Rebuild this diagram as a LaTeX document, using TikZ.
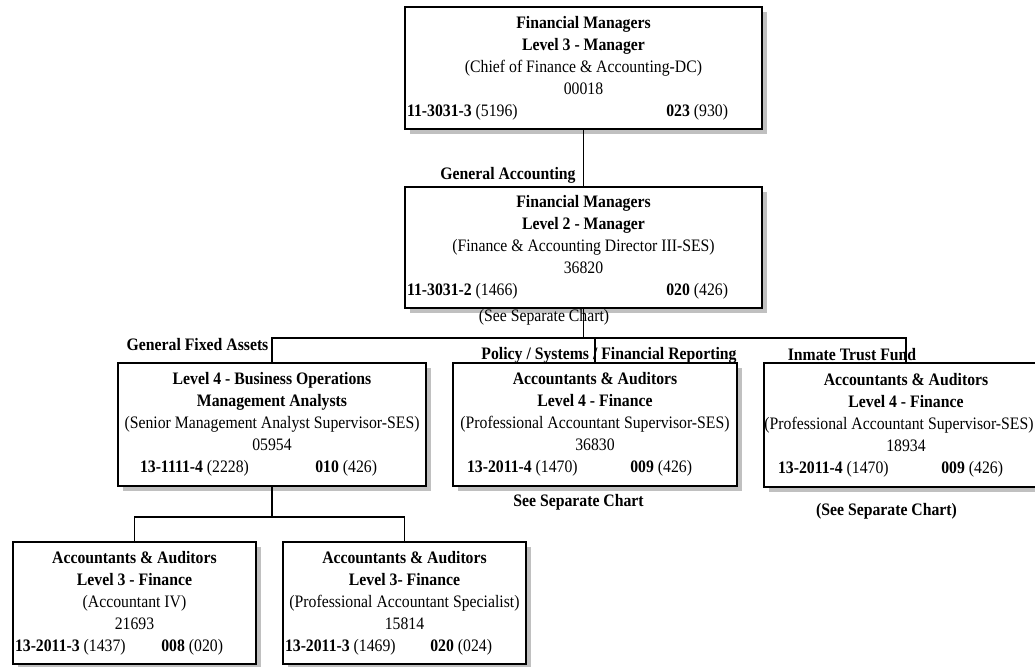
\documentclass[tikz,border=0pt]{standalone}
\usepackage{fontspec}
\setmainfont{Liberation Serif}[FakeStretch=0.9]
\usetikzlibrary{shadows}
\definecolor{shadowgray}{HTML}{C0C0C0}

% last line of a unit box: series code on the left, grade on the right
\newcommand\codeline[4]{\makebox[\linewidth][l]{\hspace*{#1}#2\hfill#3\hspace*{#4}}}

\begin{document}
\begin{tikzpicture}[x=1pt,y=-1pt,
  font=\fontsize{17.5}{22}\selectfont,
  orgbox/.style={draw, line width=1.4pt, fill=white, inner sep=0pt, align=flush center,
    drop shadow={shadow xshift=5pt, shadow yshift=-5pt, fill=shadowgray, opacity=1}},
  wire/.style={line width=1.4pt},
  tag/.style={inner sep=0pt, font=\fontsize{17.5}{22}\selectfont\bfseries},
  note/.style={inner sep=0pt}]
\useasboundingbox (0,0) rectangle (1035,666);
\clip (0,0) rectangle (1035,666);

% management chain
\node[orgbox, minimum width=357pt, minimum height=122pt, text width=357pt] (top) at (583.5,68)
  {\textbf{Financial Managers}\\ \textbf{Level 3 - Manager}\\ (Chief of Finance \& Accounting-DC)\\ 00018\\
   \codeline{2pt}{\textbf{11-3031-3} (5196)}{\textbf{023} (930)}{34pt}};
\node[orgbox, minimum width=357pt, minimum height=121pt, text width=357pt] (gen) at (583.5,247.5)
  {\textbf{Financial Managers}\\ \textbf{Level 2 - Manager}\\ (Finance \& Accounting Director III-SES)\\ 36820\\
   \codeline{2pt}{\textbf{11-3031-2} (1466)}{\textbf{020} (426)}{34pt}};

% level 4 units
\node[orgbox, minimum width=308pt, minimum height=123pt, text width=308pt] (fixed) at (272,424.5)
  {\textbf{Level 4 - Business Operations}\\ \textbf{Management Analysts}\\ (Senior Management Analyst Supervisor-SES)\\ 05954\\
   \codeline{22pt}{\textbf{13-1111-4} (2228)}{\textbf{010} (426)}{49pt}};
\node[orgbox, minimum width=284pt, minimum height=123pt, text width=284pt] (policy) at (595,424.5)
  {\textbf{Accountants \& Auditors}\\ \textbf{Level 4 - Finance}\\ (Professional Accountant Supervisor-SES)\\ 36830\\
   \codeline{14pt}{\textbf{13-2011-4} (1470)}{\textbf{009} (426)}{45pt}};
\node[orgbox, minimum width=284pt, minimum height=124pt, text width=284pt] (trust) at (906,425)
  {\textbf{Accountants \& Auditors}\\ \textbf{Level 4 - Finance}\\ \hspace*{-14pt}(Professional Accountant Supervisor-SES)\\ 18934\\
   \codeline{14pt}{\textbf{13-2011-4} (1470)}{\textbf{009} (426)}{45pt}};

% level 3 staff
\node[orgbox, minimum width=243pt, minimum height=122pt, text width=243pt] (acct) at (134.5,603)
  {\textbf{Accountants \& Auditors}\\ \textbf{Level 3 - Finance}\\ (Accountant IV)\\ 21693\\
   \codeline{2pt}{\textbf{13-2011-3} (1437)}{\textbf{008} (020)}{33pt}};
\node[orgbox, minimum width=243pt, minimum height=122pt, text width=243pt] (spec) at (404.5,603)
  {\textbf{Accountants \& Auditors}\\ \textbf{Level 3- Finance}\\ (Professional Accountant Specialist)\\ 15814\\
   \codeline{2pt}{\textbf{13-2011-3} (1469)}{\textbf{020} (024)}{34pt}};

% section labels and notes
\node[tag] (lga) at (508,175) {General Accounting};
\node[note] (see1) at (544,317) {(See Separate Chart)};
\node[tag] (lgfa) at (197.5,345) {General Fixed Assets};
\node[tag] (lpsf) at (609,355) {Policy / Systems / Financial Reporting};
\node[tag] (litf) at (852,355) {Inmate Trust Fund};
\node[tag] (see2) at (578.5,502) {See Separate Chart};
\node[tag] (see3) at (886.5,511) {(See Separate Chart)};

% connectors
\coordinate (bus1) at (583.5,338);
\coordinate (bus2) at (272,517);
\draw[wire] (top.south) -- (gen.north);
\draw[wire] (gen.south) -- (bus1);
\draw[wire] (fixed.north) -- (fixed.north |- bus1) -- (trust.north |- bus1) -- (trust.north);
\draw[wire] (policy.north) -- (policy.north |- bus1);
\draw[wire] (fixed.south) -- (bus2);
\draw[wire] (acct.north) -- (acct.north |- bus2) -- (spec.north |- bus2) -- (spec.north);
\end{tikzpicture}
\end{document}
